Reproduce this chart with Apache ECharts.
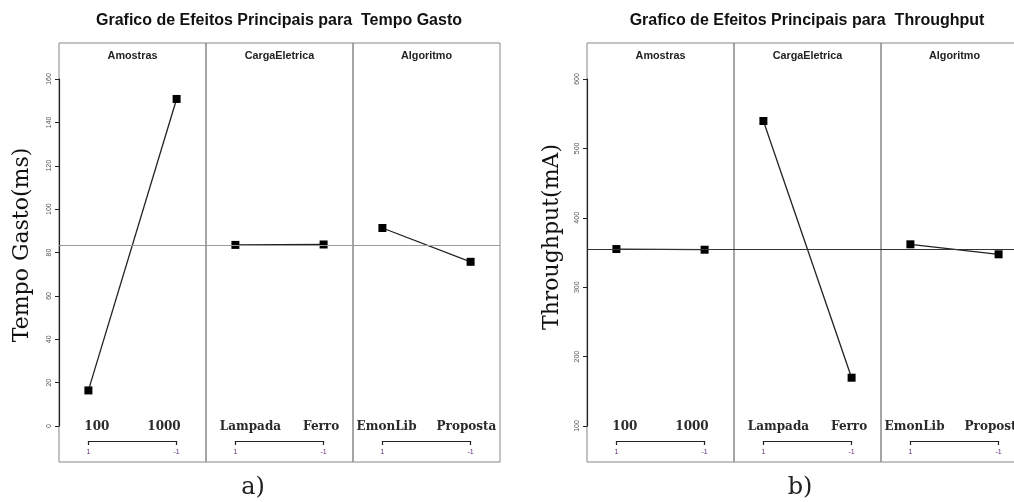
<!DOCTYPE html>
<html><head><meta charset="utf-8">
<script src="https://cdn.jsdelivr.net/npm/echarts@6/dist/echarts.min.js"></script>
<style>html,body{margin:0;padding:0;background:#fff}#c{width:1014px;height:502px}</style>
</head><body><div id="c"></div>
<script>
// ---- data ----
const factors = ['Amostras', 'CargaEletrica', 'Algoritmo'];
const levelsAmostras = ['100', '1000'];
const levelsCarga = ['Lampada', 'Ferro'];
const levelsAlgoritmo = ['EmonLib', 'Proposta'];
const codeLabels = ['1', '-1'];
const tempoAmostras = [16.4, 150.8];
const tempoCarga = [83.5, 83.7];
const tempoAlgoritmo = [91.3, 75.7];
const thrAmostras = [355, 354];
const thrCarga = [539.5, 169.6];
const thrAlgoritmo = [361.8, 347.4];
const tempoTicks = { min: 0, max: 160, interval: 20 };
const thrTicks = { min: 100, max: 600, interval: 100 };

// ---- layout ----
const levels = [levelsAmostras, levelsCarga, levelsAlgoritmo];
const charts = [
  { title: 'Grafico de Efeitos Principais para  Tempo Gasto', yName: 'Tempo Gasto(ms)', tag: 'a)',
    boxLeft: 59, titleX: 279, tagX: 253, yNameX: 22, yNameY: 245, ticks: tempoTicks,
    data: [tempoAmostras, tempoCarga, tempoAlgoritmo], refColor: '#9a9a9a' },
  { title: 'Grafico de Efeitos Principais para  Throughput', yName: 'Throughput(mA)', tag: 'b)',
    boxLeft: 587, titleX: 807, tagX: 800, yNameX: 552, yNameY: 237, ticks: thrTicks,
    data: [thrAmostras, thrCarga, thrAlgoritmo], refColor: '#333' }
];
const PW = 147, TOP = 43, BOT = 462, AX_TOP = 79, AX_BOT = 426, BR_Y = 441, LAB_Y = 427;
const labelGaps = [38, 22, 20];
const LAB_FONT = 'bold 12px "DejaVu Serif"';
const measureCtx = document.createElement('canvas').getContext('2d');
measureCtx.font = LAB_FONT;
function tw(s) { return measureCtx.measureText(s).width; }

const grid = [], xAxis = [], yAxis = [], series = [], graphic = [];
charts.forEach(function (ch) {
  const all = ch.data.flat();
  const grand = all.reduce((a, b) => a + b, 0) / all.length;
  const t = ch.ticks;
  // visible y axis
  let gi = grid.length;
  grid.push({ left: ch.boxLeft, top: AX_TOP, width: 10, height: AX_BOT - AX_TOP, show: false, outerBoundsMode: 'none' });
  xAxis.push({ gridIndex: gi, type: 'value', show: false });
  yAxis.push({ gridIndex: gi, type: 'value', min: t.min, max: t.max, interval: t.interval,
    axisLine: { show: true, lineStyle: { color: '#222', width: 1.2 } },
    axisTick: { show: true, length: 4, lineStyle: { color: '#222' } },
    splitLine: { show: false },
    axisLabel: { rotate: 90, fontSize: 7, color: '#555', margin: 6, fontFamily: 'Liberation Sans' } });
  graphic.push({ type: 'text', x: ch.yNameX, y: ch.yNameY, rotation: Math.PI / 2,
    style: { text: ch.yName, align: 'center', verticalAlign: 'middle',
      fontFamily: 'DejaVu Serif', fontSize: 22, fill: '#111' } });
  const scale = (AX_BOT - AX_TOP) / (t.max - t.min);
  const pMin = t.min - (BOT - AX_BOT) / scale;
  const pMax = t.max + (AX_TOP - TOP) / scale;
  graphic.push({ type: 'text', x: ch.titleX, y: 21, style: { text: ch.title, align: 'center', verticalAlign: 'middle',
    fontFamily: 'Liberation Sans', fontWeight: 'bold', fontSize: 16, fill: '#111' } });
  graphic.push({ type: 'text', x: ch.tagX, y: 488, style: { text: ch.tag, align: 'center', verticalAlign: 'middle',
    fontFamily: 'DejaVu Serif', fontSize: 24, fill: '#222' } });
  ch.data.forEach(function (vals, p) {
    const left = ch.boxLeft + p * PW;
    gi = grid.length;
    grid.push({ left: left, top: TOP, width: PW, height: BOT - TOP, show: true, borderColor: '#888', borderWidth: 1, outerBoundsMode: 'none' });
    xAxis.push({ gridIndex: gi, type: 'value', min: -1 / 3, max: 4 / 3, show: false });
    yAxis.push({ gridIndex: gi, type: 'value', min: pMin, max: pMax, show: false });
    series.push({ type: 'line', xAxisIndex: gi, yAxisIndex: gi,
      data: vals.map((v, i) => [i, v]),
      symbol: 'rect', symbolSize: 8,
      itemStyle: { color: '#000' },
      lineStyle: { color: '#222', width: 1.3 },
      markLine: { silent: true, symbol: 'none', label: { show: false },
        lineStyle: { color: ch.refColor, width: 1, type: 'solid' },
        data: [{ yAxis: grand }] } });
    graphic.push({ type: 'text', x: left + PW / 2, y: 56, style: { text: factors[p], align: 'center', verticalAlign: 'middle',
      fontFamily: 'Liberation Sans', fontWeight: 'bold', fontSize: 10.8, fill: '#222' } });
    // level names: one centred row per panel
    const lv = levels[p];
    const total = tw(lv[0]) + labelGaps[p] + tw(lv[1]);
    const cx = left + PW / 2;
    graphic.push({ type: 'text', x: cx - total / 2, y: LAB_Y, style: { text: lv[0], align: 'left', verticalAlign: 'middle', font: LAB_FONT, fill: '#2a2a2a' } });
    graphic.push({ type: 'text', x: cx + total / 2, y: LAB_Y, style: { text: lv[1], align: 'right', verticalAlign: 'middle', font: LAB_FONT, fill: '#2a2a2a' } });
    // bracket with coded levels
    const x0 = left + PW * 0.2, x1 = left + PW * 0.8;
    gi = grid.length;
    grid.push({ left: x0, top: BR_Y - 1, width: x1 - x0, height: 1, show: false, outerBoundsMode: 'none' });
    xAxis.push({ gridIndex: gi, type: 'value', min: 0, max: 1, interval: 1,
      axisLine: { show: true, lineStyle: { color: '#222', width: 1.2 } },
      axisTick: { show: true, length: 4, lineStyle: { color: '#222', width: 1.2 } },
      splitLine: { show: false },
      axisLabel: { margin: 8, fontSize: 7, color: '#6a2c7a', fontFamily: 'Liberation Sans',
        formatter: function (v) { return codeLabels[Math.round(v)]; } } });
    yAxis.push({ gridIndex: gi, type: 'value', show: false });
  });
});

const chart = echarts.init(document.getElementById('c'));
chart.setOption({ animation: false, backgroundColor: '#fff', grid, xAxis, yAxis, series, graphic });
</script></body></html>
